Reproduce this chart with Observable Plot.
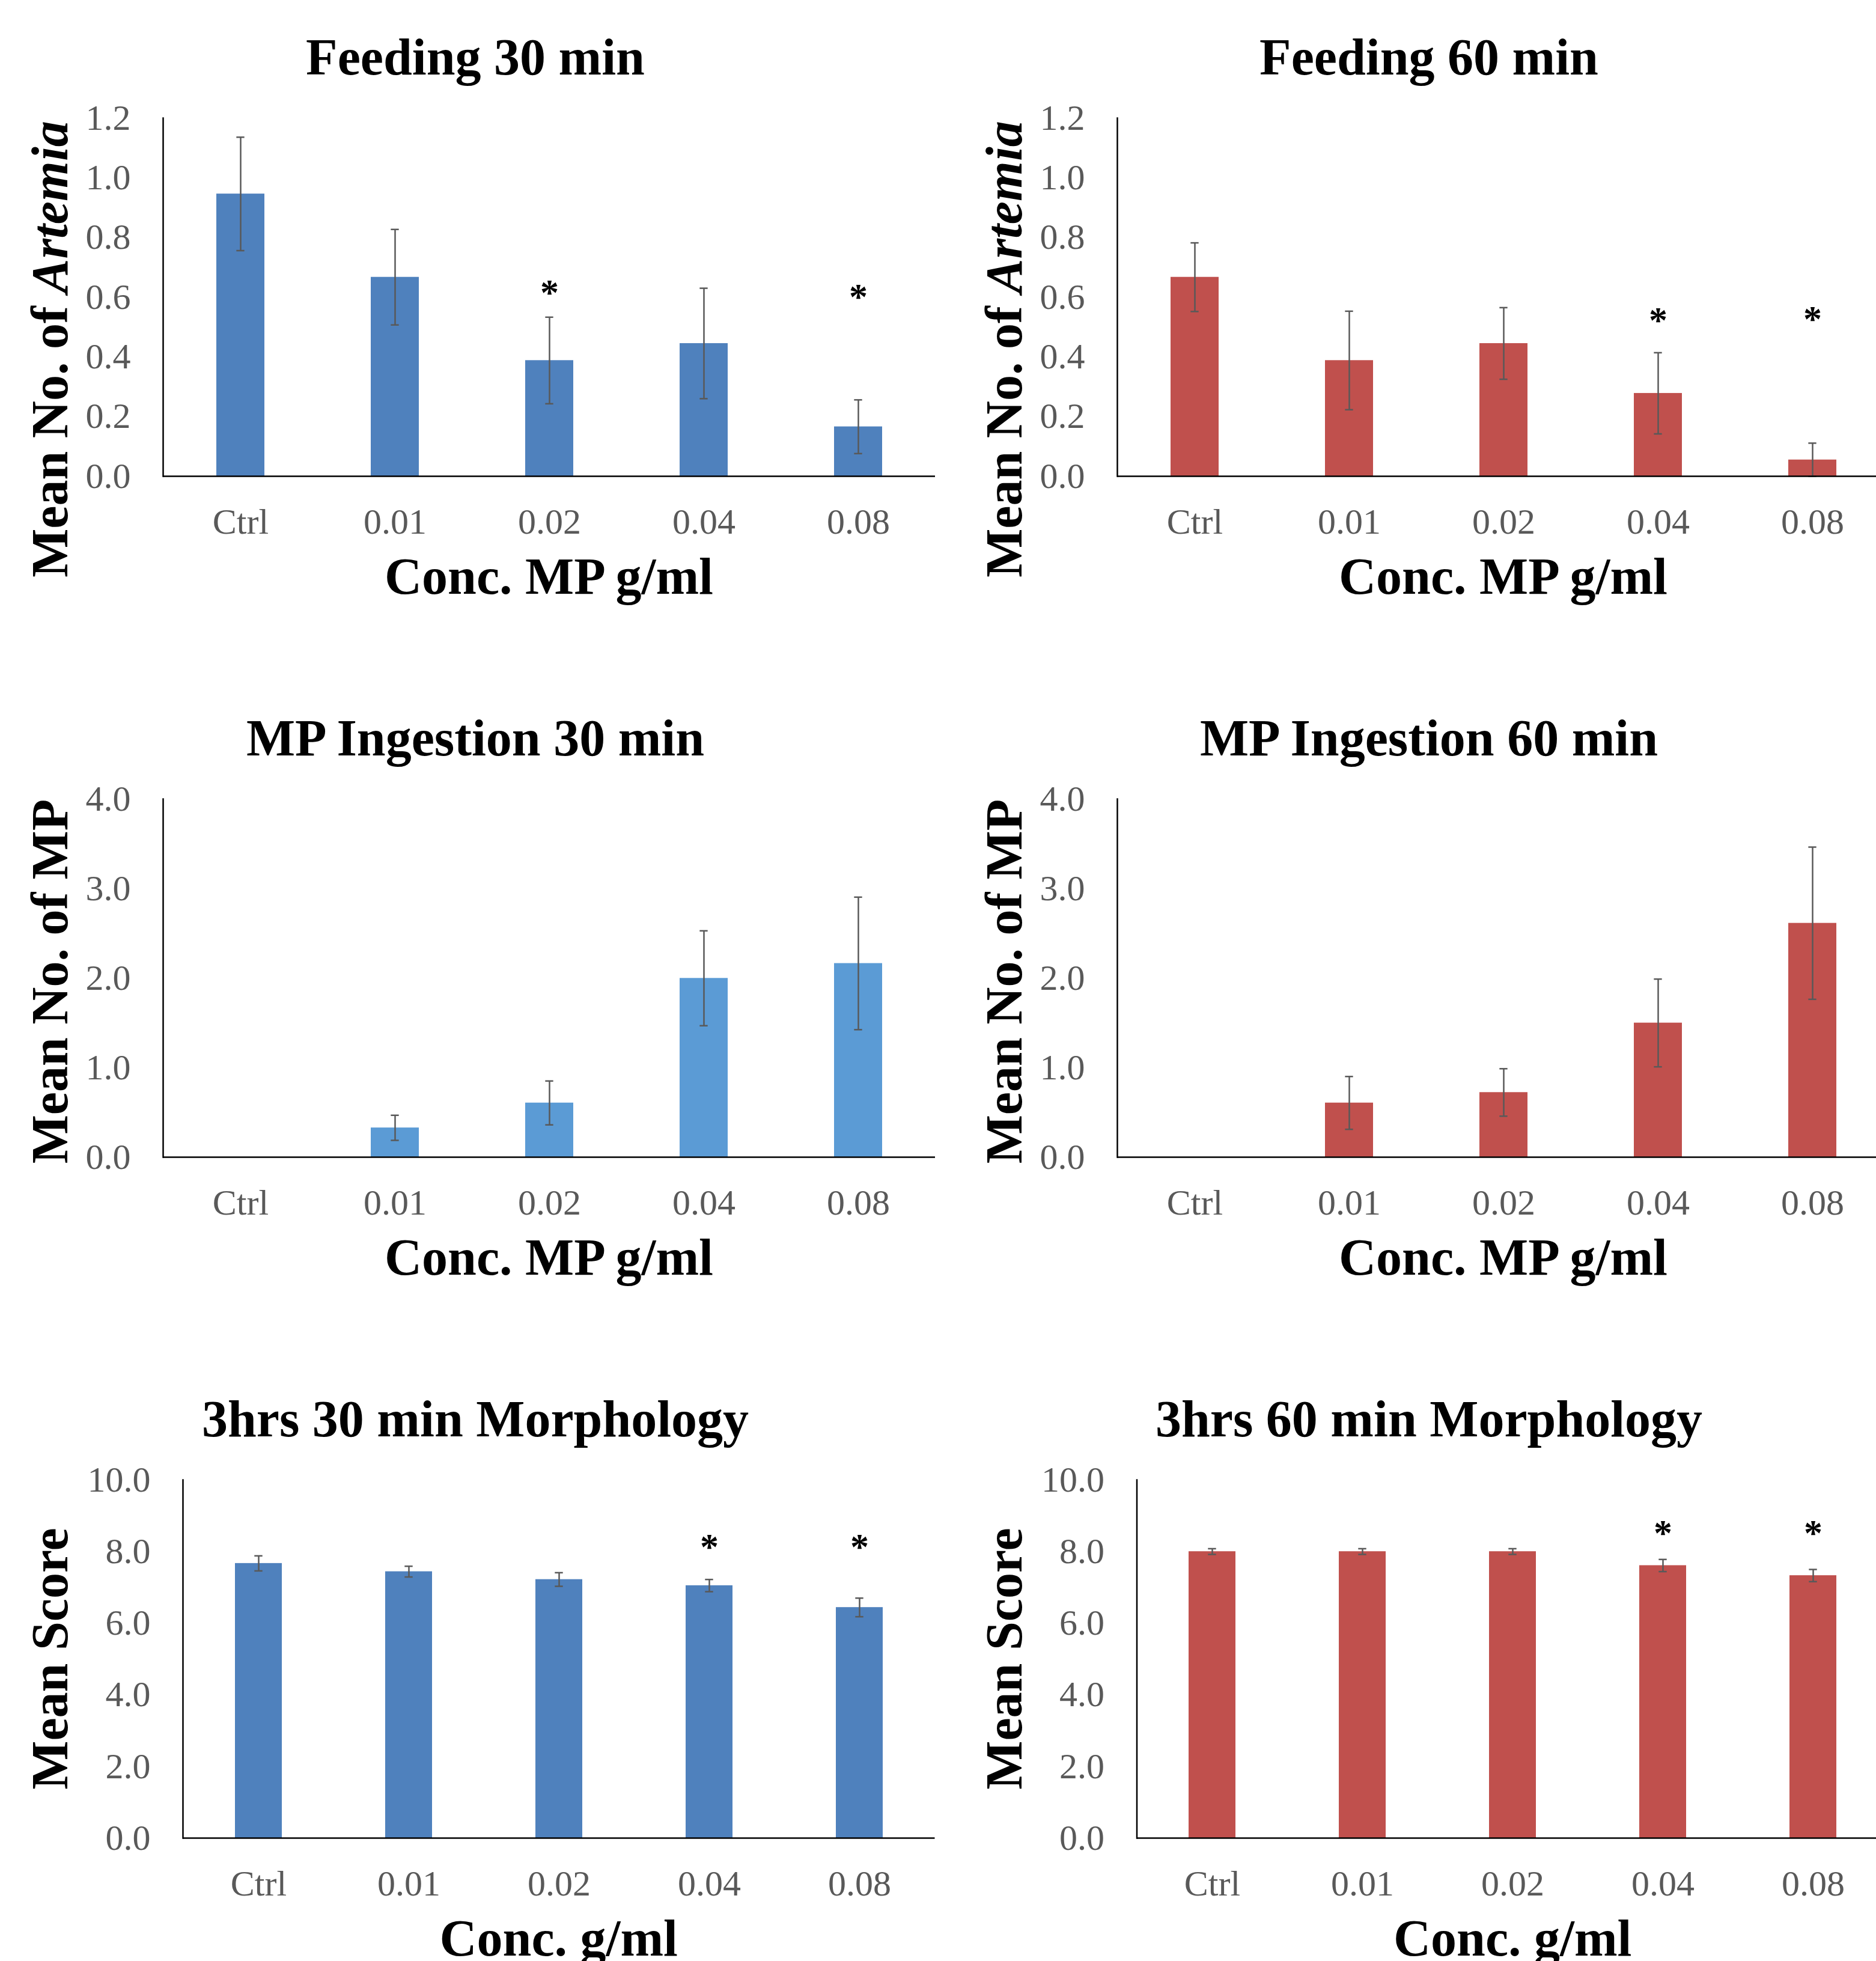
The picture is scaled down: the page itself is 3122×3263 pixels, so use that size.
<!DOCTYPE html>
<html>
<head>
<meta charset="utf-8">
<script src="https://cdn.jsdelivr.net/npm/d3@7"></script>
<script src="https://cdn.jsdelivr.net/npm/@observablehq/plot@0.6"></script>
<style>
  html, body { margin: 0; padding: 0; background: #ffffff; }
  #page { position: relative; width: 3122px; height: 3263px; overflow: hidden; background: #ffffff; }
  .cell { position: absolute; width: 1561px; height: 1133px; overflow: hidden; }
  .cell svg { display: block; max-width: none !important; }
</style>
</head>
<body>
<div id="page"></div>
<script>
// ---------- data ----------
const categories = ["Ctrl", "0.01", "0.02", "0.04", "0.08"];

const feeding30Mean = [0.946, 0.667, 0.388, 0.445, 0.166];
const feeding30Err  = [0.19, 0.16, 0.145, 0.185, 0.09];
const feeding30Star = [null, null, 0.635, null, 0.621];

const feeding60Mean = [0.667, 0.388, 0.445, 0.278, 0.055];
const feeding60Err  = [0.115, 0.165, 0.12, 0.136, 0.056];
const feeding60Star = [null, null, null, 0.543, 0.546];

const ingest30Mean = [0, 0.328, 0.606, 1.998, 2.164];
const ingest30Err  = [0, 0.14, 0.245, 0.53, 0.74];
const ingest30Star = [null, null, null, null, null];

const ingest60Mean = [0, 0.606, 0.723, 1.499, 2.613];
const ingest60Err  = [0, 0.295, 0.265, 0.49, 0.85];
const ingest60Star = [null, null, null, null, null];

const morph30Mean = [7.67, 7.44, 7.22, 7.05, 6.44];
const morph30Err  = [0.21, 0.15, 0.19, 0.17, 0.26];
const morph30Star = [null, null, null, 8.29, 8.29];

const morph60Mean = [8.0, 8.0, 8.0, 7.61, 7.33];
const morph60Err  = [0.08, 0.08, 0.08, 0.17, 0.17];
const morph60Star = [null, null, null, 8.68, 8.68];

const feedingTicks = [0, 0.2, 0.4, 0.6, 0.8, 1.0, 1.2];
const ingestTicks  = [0, 1, 2, 3, 4];
const morphTicks   = [0, 2, 4, 6, 8, 10];

const panels = [
  {title: "Feeding 30 min", yLabel: "Mean No. of ", yLabelItalic: "Artemia", xLabel: "Conc. MP g/ml",
   mean: feeding30Mean, err: feeding30Err, star: feeding30Star, color: "#4F81BD", ticks: feedingTicks, row: 0, col: 0},
  {title: "Feeding 60 min", yLabel: "Mean No. of ", yLabelItalic: "Artemia", xLabel: "Conc. MP g/ml",
   mean: feeding60Mean, err: feeding60Err, star: feeding60Star, color: "#C0504D", ticks: feedingTicks, row: 0, col: 1},
  {title: "MP Ingestion 30 min", yLabel: "Mean No. of MP", yLabelItalic: "", xLabel: "Conc. MP g/ml",
   mean: ingest30Mean, err: ingest30Err, star: ingest30Star, color: "#5B9BD5", ticks: ingestTicks, row: 1, col: 0},
  {title: "MP Ingestion 60 min", yLabel: "Mean No. of MP", yLabelItalic: "", xLabel: "Conc. MP g/ml",
   mean: ingest60Mean, err: ingest60Err, star: ingest60Star, color: "#C0504D", ticks: ingestTicks, row: 1, col: 1},
  {title: "3hrs 30 min Morphology", yLabel: "Mean Score", yLabelItalic: "", xLabel: "Conc. g/ml",
   mean: morph30Mean, err: morph30Err, star: morph30Star, color: "#4F81BD", ticks: morphTicks, row: 2, col: 0},
  {title: "3hrs 60 min Morphology", yLabel: "Mean Score", yLabelItalic: "", xLabel: "Conc. g/ml",
   mean: morph60Mean, err: morph60Err, star: morph60Star, color: "#C0504D", ticks: morphTicks, row: 2, col: 1}
];

// ---------- layout ----------
const FONT = "'Liberation Serif', 'Times New Roman', Times, serif";
const CELL_W = 1561, CELL_H = 1133;
const PLOT_TOP = 196, PLOT_BOTTOM = 792;
const padInner = 0.69;
const page = document.getElementById("page");

for (const p of panels) {
  const ml = p.col === 0 ? (p.row === 2 ? 304 : 271) : (p.row === 2 ? 330.5 : 298);
  const plotW = p.row === 2 ? 1251.5 : 1285;
  const width = p.col === 0 ? CELL_W : 1600;
  const mr = width - ml - plotW;
  const step = plotW / categories.length;
  const bandwidth = step * (1 - padInner);
  const capInset = (bandwidth - 13) / 2;

  const rows = categories.map((c, i) => ({
    cat: c,
    mean: p.mean[i],
    err: p.err[i],
    lo: Math.max(0, p.mean[i] - p.err[i]),
    hi: p.mean[i] + p.err[i],
    star: p.star[i]
  }));
  const withErr = rows.filter(d => d.err > 0);
  const stars = rows.filter(d => d.star != null);
  const yMax = p.ticks[p.ticks.length - 1];

  const chart = Plot.plot({
    width,
    height: CELL_H,
    marginLeft: ml,
    marginRight: mr,
    marginTop: PLOT_TOP,
    marginBottom: CELL_H - PLOT_BOTTOM,
    style: {fontFamily: FONT, background: "#ffffff", overflow: "visible", maxWidth: "none"},
    x: {domain: categories, paddingInner: padInner, paddingOuter: padInner / 2, axis: null},
    y: {domain: [0, yMax], nice: false, axis: null},
    marks: [
      Plot.barY(rows, {x: "cat", y: "mean", fill: p.color}),
      Plot.ruleX(withErr, {x: "cat", y1: "lo", y2: "hi", stroke: "#595959", strokeWidth: 2.5}),
      Plot.tickY(withErr, {x: "cat", y: "hi", stroke: "#595959", strokeWidth: 2.5, insetLeft: capInset, insetRight: capInset}),
      Plot.tickY(withErr, {x: "cat", y: "lo", stroke: "#595959", strokeWidth: 2.5, insetLeft: capInset, insetRight: capInset}),
      Plot.ruleY([0], {stroke: "#000000", strokeWidth: 2.5}),
      Plot.frame({anchor: "left", stroke: "#000000", strokeWidth: 2.5}),
      Plot.text(stars, {x: "cat", y: "star", text: () => "*", fontSize: 62, fontWeight: "bold", fill: "#000000", dy: 10}),
      Plot.axisX({tickSize: 0, tickPadding: 53, fontSize: 60, color: "#595959", label: null}),
      Plot.axisY({ticks: p.ticks, tickFormat: d => d.toFixed(1), tickSize: 0, tickPadding: 54, fontSize: 60, color: "#595959", label: null})
    ]
  });
  chart.style.maxWidth = "none";
  chart.style.width = width + "px";
  chart.style.height = CELL_H + "px";

  const svg = d3.select(chart);
  // title
  svg.append("text")
    .attr("x", p.col === 0 ? 791 : 817)
    .attr("y", 124)
    .attr("text-anchor", "middle")
    .attr("font-family", FONT)
    .attr("font-weight", "bold")
    .attr("font-size", 86)
    .attr("fill", "#000000")
    .text(p.title);
  // x label
  svg.append("text")
    .attr("x", ml + plotW / 2)
    .attr("y", 988)
    .attr("text-anchor", "middle")
    .attr("font-family", FONT)
    .attr("font-weight", "bold")
    .attr("font-size", 86)
    .attr("fill", "#000000")
    .text(p.xLabel);
  // y label
  const yLabelX = p.col === 0 ? 112 : 139;
  const yLabelY = [581, 500, 494][p.row];
  const yl = svg.append("text")
    .attr("transform", `translate(${yLabelX},${yLabelY}) rotate(-90)`)
    .attr("text-anchor", "middle")
    .attr("font-family", FONT)
    .attr("font-weight", "bold")
    .attr("font-size", 86)
    .attr("fill", "#000000");
  yl.append("tspan").text(p.yLabel);
  if (p.yLabelItalic) yl.append("tspan").attr("font-style", "italic").text(p.yLabelItalic);

  const cell = document.createElement("div");
  cell.className = "cell";
  cell.style.left = (p.col * CELL_W) + "px";
  cell.style.top = (p.row * CELL_H) + "px";
  cell.appendChild(chart);
  page.appendChild(cell);
}
</script>
</body>
</html>
